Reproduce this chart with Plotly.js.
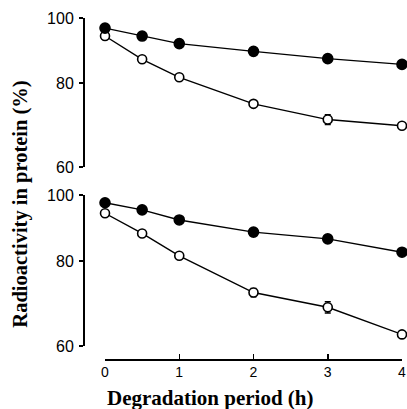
<!DOCTYPE html>
<html><head><meta charset="utf-8">
<script src="https://cdn.plot.ly/plotly-3.0.1.min.js"></script>
<style>html,body{margin:0;padding:0;background:#fff}</style>
</head><body>
<div id="chart" style="width:407px;height:409px"></div>
<script>
// Degradation period (h)
const hours = [0, 0.5, 1, 2, 3, 4];
// Top panel
const topFilled = [96.6, 94.0, 91.6, 89.2, 87.0, 85.3];
const topFilledErr = [0, 0, 0, 0, 0, 1.0];
const topOpen = [94.0, 86.8, 81.6, 74.5, 70.6, 69.1];
const topOpenErr = [0, 0, 0, 0, 1.2, 0];
// Bottom panel
const botFilled = [97.4, 95.1, 91.9, 88.2, 86.2, 82.4];
const botFilledErr = [0, 0, 0, 1.0, 1.0, 1.0];
const botOpen = [94.0, 87.8, 81.4, 71.9, 68.4, 62.4];
const botOpenErr = [0, 0, 0, 1.0, 1.3, 0.8];
const yTicks = [60, 80, 100];
const xTicks = [0, 1, 2, 3, 4];

function series(y, err, filled, yax) {
  return {
    x: hours, y: y, xaxis: 'x', yaxis: yax, type: 'scatter', mode: 'lines+markers',
    line: {color: '#000', width: 1.4},
    marker: {size: filled ? 10 : 9, color: filled ? '#000' : '#fff', line: {color: '#000', width: 1.6}},
    error_y: {type: 'data', array: err, visible: true, color: '#000', thickness: 1.5, width: 3},
    cliponaxis: false, showlegend: false, hoverinfo: 'skip'
  };
}

const data = [
  series(topOpen, topOpenErr, false, 'y'),
  series(topFilled, topFilledErr, true, 'y'),
  series(botOpen, botOpenErr, false, 'y2'),
  series(botFilled, botFilledErr, true, 'y2')
];

const yaxisBase = {
  type: 'log', range: [Math.log10(60), 2], tickvals: yTicks, ticktext: yTicks.map(String),
  showline: true, linecolor: '#000', linewidth: 1.5, ticks: 'outside', ticklen: 4, tickwidth: 1.5,
  tickcolor: '#000', showgrid: false, zeroline: false, anchor: 'free', position: 0,
  tickfont: {family: 'Liberation Sans', size: 16, color: '#000'}, ticklabelstandoff: 2
};

const layout = {
  width: 407, height: 409,
  margin: {l: 83, r: 5, t: 18, b: 50},
  paper_bgcolor: '#fff', plot_bgcolor: '#fff',
  xaxis: {
    range: [0, 4], domain: [0.069, 1], tickvals: xTicks, ticktext: xTicks.map(String),
    showline: true, linecolor: '#000', linewidth: 1.5, ticks: 'inside', ticklen: 5, tickwidth: 1.5,
    tickcolor: '#000', showgrid: false, zeroline: false, anchor: 'free', position: 0,
    tickfont: {family: 'Liberation Sans', size: 14, color: '#000'}
  },
  yaxis: Object.assign({}, yaxisBase, {domain: [0.563, 1]}),
  yaxis2: Object.assign({}, yaxisBase, {domain: [0.0381, 0.481]}),
  annotations: [
    {text: 'Radioactivity in protein (%)', xref: 'paper', yref: 'paper', x: -0.195, y: 0.455,
     textangle: -90, showarrow: false, xanchor: 'center', yanchor: 'middle',
     font: {family: 'Liberation Serif', size: 20.5, color: '#000', weight: 'bold'}},
    {text: 'Degradation period (h)', xref: 'paper', yref: 'paper', x: 0.401, y: -0.115,
     showarrow: false, xanchor: 'center', yanchor: 'middle',
     font: {family: 'Liberation Serif', size: 21, color: '#000', weight: 'bold'}}
  ]
};

Plotly.newPlot('chart', data, layout, {displayModeBar: false, staticPlot: true});
</script>
</body></html>
